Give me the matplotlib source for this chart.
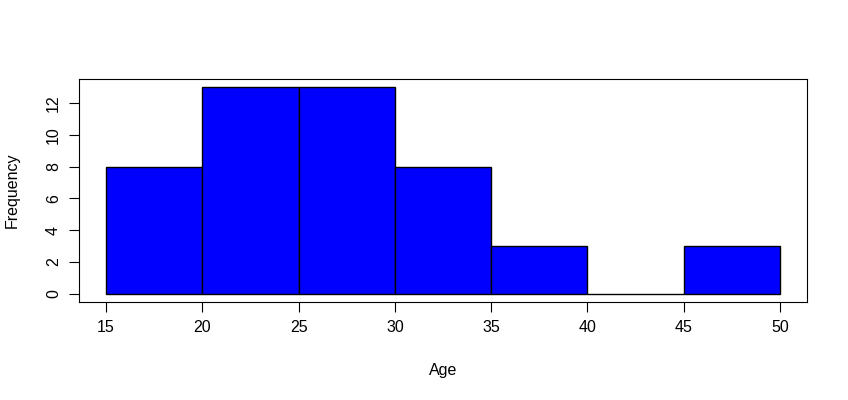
import matplotlib
matplotlib.use("Agg")
import matplotlib.pyplot as plt
import numpy as np

# histogram of ages, bins of width 5
bin_edges = [15, 20, 25, 30, 35, 40, 45, 50]
counts = [8, 13, 13, 8, 3, 0, 3]
y_ticks = [0, 2, 4, 6, 8, 10, 12]

plt.rcParams["font.family"] = ["Liberation Sans", "DejaVu Sans"]

fig = plt.figure(figsize=(8.48, 4.0), dpi=100)
ax = fig.add_axes([0.0932, 0.245, 0.8585, 0.558])

lefts = np.array(bin_edges[:-1])
widths = np.diff(bin_edges)
ax.bar(lefts, counts, width=widths, align="edge", color="#0000ff",
       edgecolor="black", linewidth=1.0)

ax.set_xlim(13.6, 51.4)
ax.set_ylim(-0.52, 13.52)
ax.set_xticks(bin_edges)
ax.set_yticks(y_ticks)
ax.set_yticklabels([str(t) for t in y_ticks], rotation=90, va="center")
ax.tick_params(direction="out", length=7, width=0.8, labelsize=11.5, pad=6)
for s in ax.spines.values():
    s.set_linewidth(0.8)

ax.set_xlabel("Age", fontsize=11.5, labelpad=20)
ax.set_ylabel("Frequency", fontsize=11.5, labelpad=19)

fig.savefig("out.png", dpi=100)
